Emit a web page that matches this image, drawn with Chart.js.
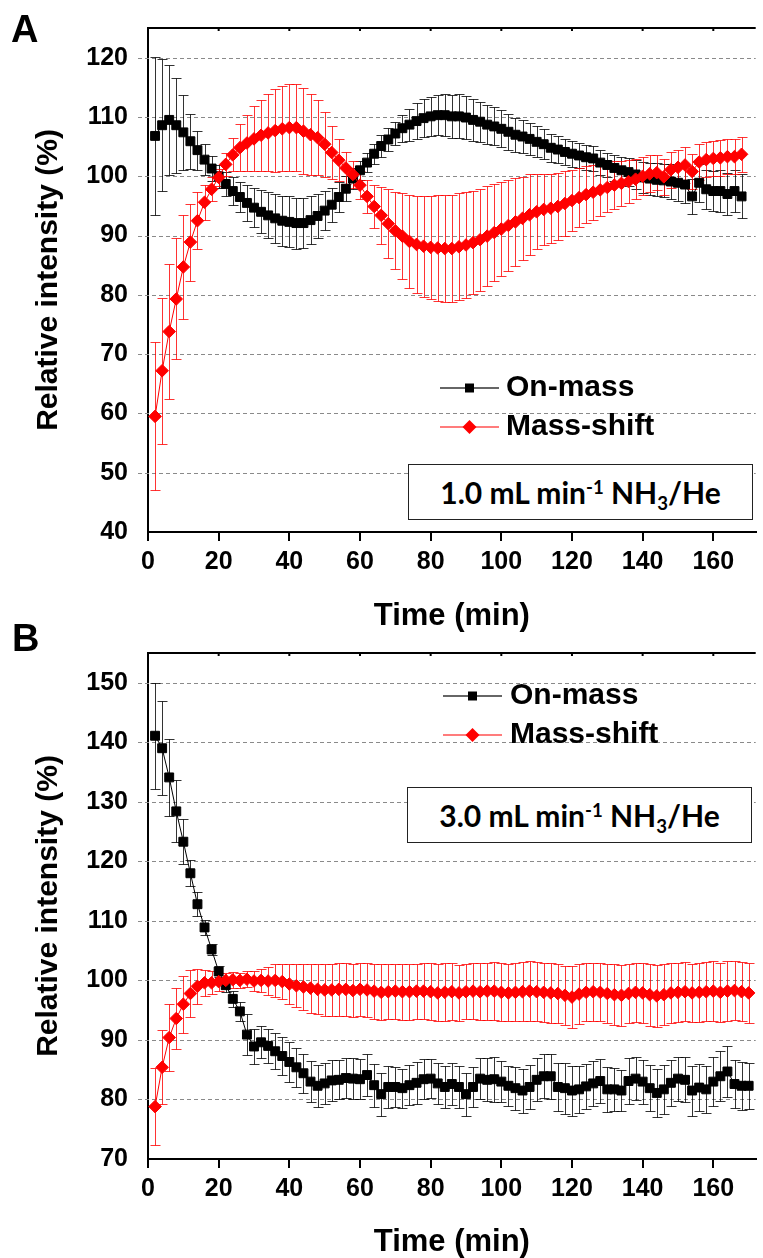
<!DOCTYPE html>
<html>
<head>
<meta charset="utf-8">
<title>Relative intensity</title>
<script src="https://cdn.jsdelivr.net/npm/chart.js@4.4.1/dist/chart.umd.min.js"></script>
<style>
    body { margin: 0; background: #fff; }
    #pagina { position: relative; width: 763px; height: 1258px; overflow: hidden; background: #fff; }
    #graficoA { position: absolute; left: 0; top: 0; }
    #graficoB { position: absolute; left: 0; top: 632px; }
    .letra { position: absolute; font-family: "Liberation Sans", Arial, sans-serif; font-weight: bold; font-size: 38px; line-height: 1; color: #000; }
    .nota { position: absolute; width: 345px; height: 56px; box-sizing: border-box; border: 1px solid #222; background: #fff;
            font-family: Lato, "Open Sans", sans-serif; font-weight: bold; font-size: 30px; color: #000;
            text-align: center; line-height: 54px; white-space: nowrap; }
    .nota .sup { position: relative; top: -0.55em; font-size: 0.62em; }
    .nota .sub { position: relative; top: 0.32em; font-size: 0.62em; }
</style>
</head>
<body>
<div id="pagina">
    <canvas id="graficoA" width="763" height="632"></canvas>
    <canvas id="graficoB" width="763" height="626"></canvas>
    <div class="letra" style="left: 11px; top: 10px;">A</div>
    <div class="letra" style="left: 12px; top: 619px;">B</div>
    <div class="nota" style="left: 408px; top: 464px;">1.0 mL min<span class="sup">-1</span> NH<span class="sub">3</span>/He</div>
    <div class="nota" style="left: 407px; top: 787px;">3.0 mL min<span class="sup">-1</span> NH<span class="sub">3</span>/He</div>
</div>
<script>
var rotulosSeries = ['On-mass', 'Mass-shift'];
var tituloX = 'Time (min)';
var tituloY = 'Relative intensity (%)';
var ticksTempo = [0, 20, 40, 60, 80, 100, 120, 140, 160];
var ticksIntensidadeA = [40, 50, 60, 70, 80, 90, 100, 110, 120];
var ticksIntensidadeB = [70, 80, 90, 100, 110, 120, 130, 140, 150];

// painel A - 1.0 mL/min
var tempoA = [
    2, 4, 6, 8, 10, 12, 14, 16, 18, 20,
    22, 24, 26, 28, 30, 32, 34, 36, 38, 40,
    42, 44, 46, 48, 50, 52, 54, 56, 58, 60,
    62, 64, 66, 68, 70, 72, 74, 76, 78, 80,
    82, 84, 86, 88, 90, 92, 94, 96, 98, 100,
    102, 104, 106, 108, 110, 112, 114, 116, 118, 120,
    122, 124, 126, 128, 130, 132, 134, 136, 138, 140,
    142, 144, 146, 148, 150, 152, 154, 156, 158, 160,
    162, 164, 166, 168];
var onMassA = [
    106.8, 108.6, 109.5, 108.6, 107.4, 105.9, 104.4, 102.8, 101.3, 100.0,
    98.7, 97.5, 96.5, 95.5, 94.7, 94.0, 93.4, 92.9, 92.5, 92.3,
    92.1, 92.1, 92.6, 93.3, 94.2, 95.2, 96.5, 97.9, 99.6, 101.0,
    102.3, 103.8, 105.1, 106.2, 107.2, 108.1, 108.7, 109.3, 109.8, 110.1,
    110.3, 110.3, 110.1, 110.1, 109.9, 109.5, 109.2, 108.7, 108.4, 108.0,
    107.5, 107.0, 106.7, 106.3, 105.8, 105.4, 104.8, 104.5, 104.1, 103.8,
    103.5, 103.2, 103.0, 102.3, 101.9, 101.4, 101.0, 100.7, 100.3, 99.8,
    99.6, 99.4, 99.3, 99.1, 98.9, 98.6, 96.6, 98.9, 97.8, 97.5,
    97.5, 97.0, 97.5, 96.6];
var erroOnMassA = [
    13.3, 11.1, 9.3, 8.0, 6.3, 4.6, 3.3, 2.6, 2.1, 1.9,
    2.0, 2.3, 2.6, 3.0, 3.3, 3.6, 3.9, 4.1, 4.2, 4.3,
    4.3, 4.2, 4.0, 3.7, 3.3, 2.9, 2.5, 2.1, 1.8, 1.6,
    1.6, 1.7, 1.8, 1.9, 2.0, 2.3, 2.7, 3.0, 3.2, 3.3,
    3.4, 3.5, 3.6, 3.7, 3.6, 3.5, 3.4, 3.3, 3.2, 3.1,
    3.0, 2.9, 2.8, 2.7, 2.6, 2.5, 2.4, 2.3, 2.2, 2.2,
    2.1, 2.1, 2.1, 2.1, 2.1, 2.2, 2.3, 2.4, 2.5, 2.6,
    2.7, 2.8, 2.8, 2.9, 3.0, 3.1, 3.0, 3.2, 3.3, 3.4,
    3.5, 3.6, 3.6, 3.7];
var massShiftA = [
    59.5, 67.2, 73.8, 79.3, 84.7, 88.9, 92.5, 95.6, 97.8, 99.8,
    102.0, 103.6, 104.8, 105.6, 106.3, 106.9, 107.3, 107.7, 108.0, 108.2,
    108.2, 107.6, 107.0, 106.5, 105.4, 104.0, 102.7, 101.4, 100.3, 98.5,
    96.6, 94.9, 93.4, 92.0, 90.8, 89.9, 89.0, 88.5, 88.2, 88.0,
    87.9, 87.8, 87.8, 88.1, 88.4, 88.8, 89.3, 89.9, 90.5, 91.1,
    91.7, 92.3, 92.9, 93.5, 94.0, 94.4, 94.6, 94.9, 95.4, 95.9,
    96.4, 96.9, 97.3, 97.7, 98.1, 98.5, 98.8, 99.1, 99.5, 100.0,
    100.4, 100.6, 99.9, 101.1, 101.5, 101.9, 100.8, 102.4, 102.8, 103.0,
    103.1, 103.3, 103.3, 103.7];
var erroMassShiftA = [
    12.5, 12.3, 11.4, 10.2, 8.7, 6.5, 4.8, 3.0, 2.0, 1.5,
    2.0, 2.8, 4.0, 4.8, 5.5, 6.0, 6.5, 7.0, 7.2, 7.3,
    7.4, 7.2, 6.8, 6.3, 5.5, 4.5, 3.5, 2.7, 2.2, 2.3,
    2.8, 3.7, 4.8, 5.8, 6.5, 7.2, 7.8, 8.2, 8.5, 8.7,
    8.9, 9.0, 9.0, 9.0, 8.9, 8.7, 8.6, 8.4, 8.2, 7.9,
    7.7, 7.4, 7.0, 6.8, 6.3, 6.0, 5.8, 5.6, 5.4, 5.2,
    5.0, 4.8, 4.6, 4.4, 4.2, 4.0, 3.8, 3.6, 3.4, 3.2,
    3.1, 3.0, 3.0, 3.0, 3.0, 3.0, 3.0, 3.0, 3.0, 3.0,
    3.0, 3.0, 3.0, 3.0];

// painel B - 3.0 mL/min
var tempoB = [
    2, 4, 6, 8, 10, 12, 14, 16, 18, 20,
    22, 24, 26, 28, 30, 32, 34, 36, 38, 40,
    42, 44, 46, 48, 50, 52, 54, 56, 58, 60,
    62, 64, 66, 68, 70, 72, 74, 76, 78, 80,
    82, 84, 86, 88, 90, 92, 94, 96, 98, 100,
    102, 104, 106, 108, 110, 112, 114, 116, 118, 120,
    122, 124, 126, 128, 130, 132, 134, 136, 138, 140,
    142, 144, 146, 148, 150, 152, 154, 156, 158, 160,
    162, 164, 166, 168, 170];
var onMassB = [
    141.1, 139.0, 134.1, 128.4, 123.3, 118.0, 112.8, 108.9, 105.2, 101.5,
    99.2, 96.9, 94.8, 90.9, 88.9, 89.6, 89.0, 88.1, 87.3, 86.3,
    85.4, 84.4, 83.0, 82.3, 82.7, 83.2, 83.3, 83.6, 83.5, 83.4,
    84.1, 82.4, 80.9, 82.1, 82.1, 81.9, 82.4, 82.8, 83.4, 83.5,
    82.7, 82.1, 82.6, 82.1, 80.9, 82.1, 83.5, 83.3, 83.4, 83.0,
    82.3, 81.9, 81.5, 82.1, 83.3, 83.9, 83.9, 82.1, 81.9, 81.5,
    81.7, 82.2, 82.7, 83.1, 81.7, 81.7, 81.5, 83.1, 83.5, 83.0,
    81.9, 81.1, 81.7, 82.8, 83.5, 83.3, 81.5, 82.0, 81.7, 83.0,
    83.9, 84.7, 82.6, 82.3, 82.3];
var erroOnMassB = [
    8.9, 7.9, 6.5, 5.2, 3.8, 2.2, 2.0, 1.3, 1.0, 1.0,
    1.2, 1.4, 1.6, 3.4, 2.9, 2.7, 2.8, 3.0, 3.2, 3.3,
    3.3, 3.3, 3.4, 3.5, 3.4, 3.4, 3.3, 3.4, 3.5, 3.4,
    3.5, 3.6, 3.6, 3.5, 3.4, 3.3, 3.4, 3.5, 3.4, 3.3,
    3.4, 3.6, 3.5, 3.5, 3.6, 3.4, 3.5, 3.6, 3.8, 3.5,
    3.4, 3.6, 3.7, 3.7, 3.6, 3.7, 3.8, 4.1, 4.3, 4.2,
    3.9, 3.8, 3.8, 3.7, 3.8, 3.6, 3.5, 3.8, 3.6, 3.7,
    3.9, 4.0, 4.1, 3.9, 3.7, 3.8, 4.2, 4.0, 3.9, 4.1,
    4.2, 4.3, 4.0, 4.0, 3.9];
var massShiftB = [
    78.8, 85.4, 90.4, 93.6, 96.0, 97.8, 99.0, 99.6, 99.6, 99.8,
    100.0, 100.1, 100.0, 100.2, 99.9, 100.0, 99.9, 100.0, 99.8, 99.4,
    99.1, 98.9, 98.7, 98.5, 98.4, 98.4, 98.5, 98.5, 98.3, 98.5,
    98.4, 98.2, 98.0, 98.1, 98.2, 98.1, 98.1, 98.2, 98.2, 98.1,
    97.9, 98.0, 98.1, 97.9, 98.1, 98.2, 98.1, 98.2, 98.2, 98.0,
    97.9, 98.0, 98.1, 98.2, 98.1, 98.0, 97.9, 97.8, 97.5, 97.2,
    97.7, 98.0, 98.1, 98.0, 97.8, 97.6, 97.5, 97.8, 98.0, 97.9,
    97.6, 97.4, 97.6, 97.9, 98.0, 98.1, 97.9, 98.0, 98.1, 98.2,
    98.0, 98.2, 98.3, 98.1, 97.9];
var erroMassShiftB = [
    6.5, 6.2, 5.6, 5.2, 4.8, 4.0, 3.0, 2.2, 1.9, 1.5,
    1.3, 1.3, 1.3, 1.3, 1.6, 2.0, 2.4, 2.8, 3.0, 3.3,
    3.6, 3.9, 4.1, 4.2, 4.3, 4.4, 4.4, 4.4, 4.5, 4.5,
    4.5, 4.6, 4.7, 4.6, 4.6, 4.7, 4.7, 4.6, 4.7, 4.8,
    4.8, 4.9, 4.8, 4.7, 4.6, 4.7, 4.8, 4.8, 4.9, 4.9,
    4.8, 4.9, 5.0, 5.0, 5.0, 5.0, 5.1, 5.0, 5.0, 5.2,
    5.0, 4.9, 4.9, 4.9, 5.0, 5.1, 5.1, 5.0, 5.0, 5.1,
    5.2, 5.2, 5.1, 5.0, 5.0, 5.0, 4.9, 5.0, 5.0, 5.0,
    5.0, 5.1, 5.0, 5.0, 5.0];

var FONTE = '"Liberation Sans", Arial, Helvetica, sans-serif';

function fonte(tamanho, alturaLinha)
{
    return { family: FONTE, size: tamanho, weight: 'bold', lineHeight: alturaLinha || 1.2 };
}

function montarPontos(tempos, valores)
{
    return tempos.map(function (t, i) { return { x: t, y: valores[i] }; });
}

// linhas tracejadas da grade + borda superior
var pluginGrade =
{
    id: 'grade',
    beforeDatasetsDraw: function (chart)
    {
        var ctx = chart.ctx;
        var area = chart.chartArea;
        var eixoX = chart.scales.x;
        var eixoY = chart.scales.y;

        ctx.save();
        ctx.strokeStyle = '#8a8a8a';
        ctx.lineWidth = 1;
        ctx.setLineDash([4, 3]);
        eixoY.ticks.forEach(function (tick)
        {
            if (tick.value <= eixoY.min) return;
            var y = Math.round(eixoY.getPixelForValue(tick.value)) + 0.5;
            ctx.beginPath();
            ctx.moveTo(area.left - 10, y);
            ctx.lineTo(area.right, y);
            ctx.stroke();
        });

        ctx.setLineDash([]);
        ctx.strokeStyle = '#000';
        ctx.lineWidth = 2;
        ctx.beginPath();
        ctx.moveTo(area.left - 1, area.top);
        ctx.lineTo(area.right, area.top);
        eixoX.ticks.forEach(function (tick)
        {
            var x = eixoX.getPixelForValue(tick.value);
            ctx.moveTo(x, area.top);
            ctx.lineTo(x, area.top + 3);
        });
        ctx.stroke();
        ctx.restore();
    }
};

var pluginBarrasErro =
{
    id: 'barrasErro',
    beforeDatasetsDraw: function (chart)
    {
        var ctx = chart.ctx;
        var eixoX = chart.scales.x;
        var eixoY = chart.scales.y;

        ctx.save();
        ctx.lineWidth = 1;
        chart.data.datasets.forEach(function (ds)
        {
            ctx.strokeStyle = ds.corErro;
            ds.data.forEach(function (p, i)
            {
                var x = Math.round(eixoX.getPixelForValue(p.x)) + 0.5;
                var yTopo = Math.round(eixoY.getPixelForValue(p.y + ds.erros[i])) + 0.5;
                var yBase = Math.round(eixoY.getPixelForValue(p.y - ds.erros[i])) + 0.5;
                ctx.beginPath();
                ctx.moveTo(x, yTopo);
                ctx.lineTo(x, yBase);
                ctx.moveTo(x - 5, yTopo);
                ctx.lineTo(x + 5, yTopo);
                ctx.moveTo(x - 5, yBase);
                ctx.lineTo(x + 5, yBase);
                ctx.stroke();
            });
        });
        ctx.restore();
    }
};

// legenda dentro da area do grafico (linha + marcador + texto)
var pluginLegenda =
{
    id: 'legendaInterna',
    afterDatasetsDraw: function (chart, args, opcoes)
    {
        var ctx = chart.ctx;
        ctx.save();
        chart.data.datasets.forEach(function (ds, i)
        {
            var y = opcoes.ys[i];
            var xMeio = opcoes.xLinha + opcoes.larguraLinha / 2;

            ctx.strokeStyle = ds.corLegenda;
            ctx.lineWidth = 1.5;
            ctx.beginPath();
            ctx.moveTo(opcoes.xLinha, y);
            ctx.lineTo(opcoes.xLinha + opcoes.larguraLinha, y);
            ctx.stroke();

            ctx.fillStyle = ds.pointBackgroundColor;
            ctx.beginPath();
            if (ds.pointStyle === 'rect')
            {
                ctx.rect(xMeio - 4.5, y - 4.5, 9, 9);
            }
            else
            {
                ctx.moveTo(xMeio - 7, y);
                ctx.lineTo(xMeio, y - 7);
                ctx.lineTo(xMeio + 7, y);
                ctx.lineTo(xMeio, y + 7);
                ctx.closePath();
            }
            ctx.fill();

            ctx.fillStyle = '#000';
            ctx.font = 'bold 30px ' + FONTE;
            ctx.textAlign = 'left';
            ctx.textBaseline = 'middle';
            ctx.fillText(ds.label, opcoes.xTexto, y);
        });
        ctx.restore();
    }
};

function criarGrafico(idCanvas, painel)
{
    var datasets =
    [
        {
            label: rotulosSeries[0],
            data: montarPontos(painel.tempos, painel.onMass),
            erros: painel.erroOnMass,
            corErro: 'rgba(0, 0, 0, 0.8)',
            corLegenda: '#333333',
            borderColor: '#000000',
            backgroundColor: '#000000',
            borderWidth: 1,
            pointStyle: 'rect',
            pointRadius: 6.3,
            pointBorderWidth: 1,
            pointBorderColor: '#000000',
            pointBackgroundColor: '#000000',
            tension: 0,
            order: 1
        },
        {
            label: rotulosSeries[1],
            data: montarPontos(painel.tempos, painel.massShift),
            erros: painel.erroMassShift,
            corErro: 'rgba(255, 0, 0, 0.8)',
            corLegenda: '#ff5050',
            borderColor: '#ff0000',
            backgroundColor: '#ff0000',
            borderWidth: 1,
            pointStyle: 'rectRot',
            pointRadius: 6.3,
            pointBorderWidth: 1,
            pointBorderColor: '#ff0000',
            pointBackgroundColor: '#ff0000',
            tension: 0,
            order: 0
        }
    ];

    return new Chart(document.getElementById(idCanvas).getContext('2d'),
    {
        type: 'line',
        data: { datasets: datasets },
        options:
        {
            responsive: false,
            animation: false,
            events: [],
            layout: { padding: { top: painel.topo, right: 0, bottom: 0, left: 0 } },
            plugins:
            {
                legend: { display: false },
                tooltip: { enabled: false },
                legendaInterna: painel.legenda
            },
            scales:
            {
                x:
                {
                    type: 'linear',
                    min: 0,
                    max: 172,
                    afterBuildTicks: function (eixo) { eixo.ticks = ticksTempo.map(function (v) { return { value: v }; }); },
                    afterFit: function (eixo)
                    {
                        eixo.height = painel.alturaEixoX;
                        eixo.paddingLeft = 0;
                        eixo.paddingRight = 0;
                    },
                    grid: { display: true, drawOnChartArea: false, drawTicks: true, tickLength: 9, color: '#000', lineWidth: 2 },
                    border: { display: true, color: '#000', width: 2 },
                    ticks: { autoSkip: false, maxRotation: 0, padding: 6, color: '#000', font: fonte(25) },
                    title: { display: true, text: tituloX, color: '#000', font: fonte(31, 1), padding: { top: 0, bottom: 0 } }
                },
                y:
                {
                    type: 'linear',
                    min: painel.minY,
                    max: painel.maxY,
                    afterBuildTicks: function (eixo) { eixo.ticks = painel.ticksY.map(function (v) { return { value: v }; }); },
                    afterFit: function (eixo)
                    {
                        eixo.width = 148;
                        eixo.paddingTop = 0;
                        eixo.paddingBottom = 0;
                    },
                    grid: { display: false, drawTicks: false },
                    border: { display: true, color: '#000', width: 2 },
                    ticks: { padding: 20, color: '#000', font: fonte(25) },
                    title: { display: true, text: tituloY, color: '#000', font: fonte(30), padding: { top: 31, bottom: 0 } }
                }
            }
        },
        plugins: [pluginGrade, pluginBarrasErro, pluginLegenda]
    });
}

criarGrafico('graficoA',
{
    tempos: tempoA,
    onMass: onMassA,
    erroOnMass: erroOnMassA,
    massShift: massShiftA,
    erroMassShift: erroMassShiftA,
    minY: 40,
    maxY: 125,
    ticksY: ticksIntensidadeA,
    topo: 28,
    alturaEixoX: 100,
    legenda: { xLinha: 440, larguraLinha: 59, xTexto: 506, ys: [388, 427] }
});

criarGrafico('graficoB',
{
    tempos: tempoB,
    onMass: onMassB,
    erroOnMass: erroOnMassB,
    massShift: massShiftB,
    erroMassShift: erroMassShiftB,
    minY: 70,
    maxY: 155,
    ticksY: ticksIntensidadeB,
    topo: 21,
    alturaEixoX: 99,
    legenda: { xLinha: 443, larguraLinha: 59, xTexto: 510, ys: [64, 103] }
});
</script>
</body>
</html>
